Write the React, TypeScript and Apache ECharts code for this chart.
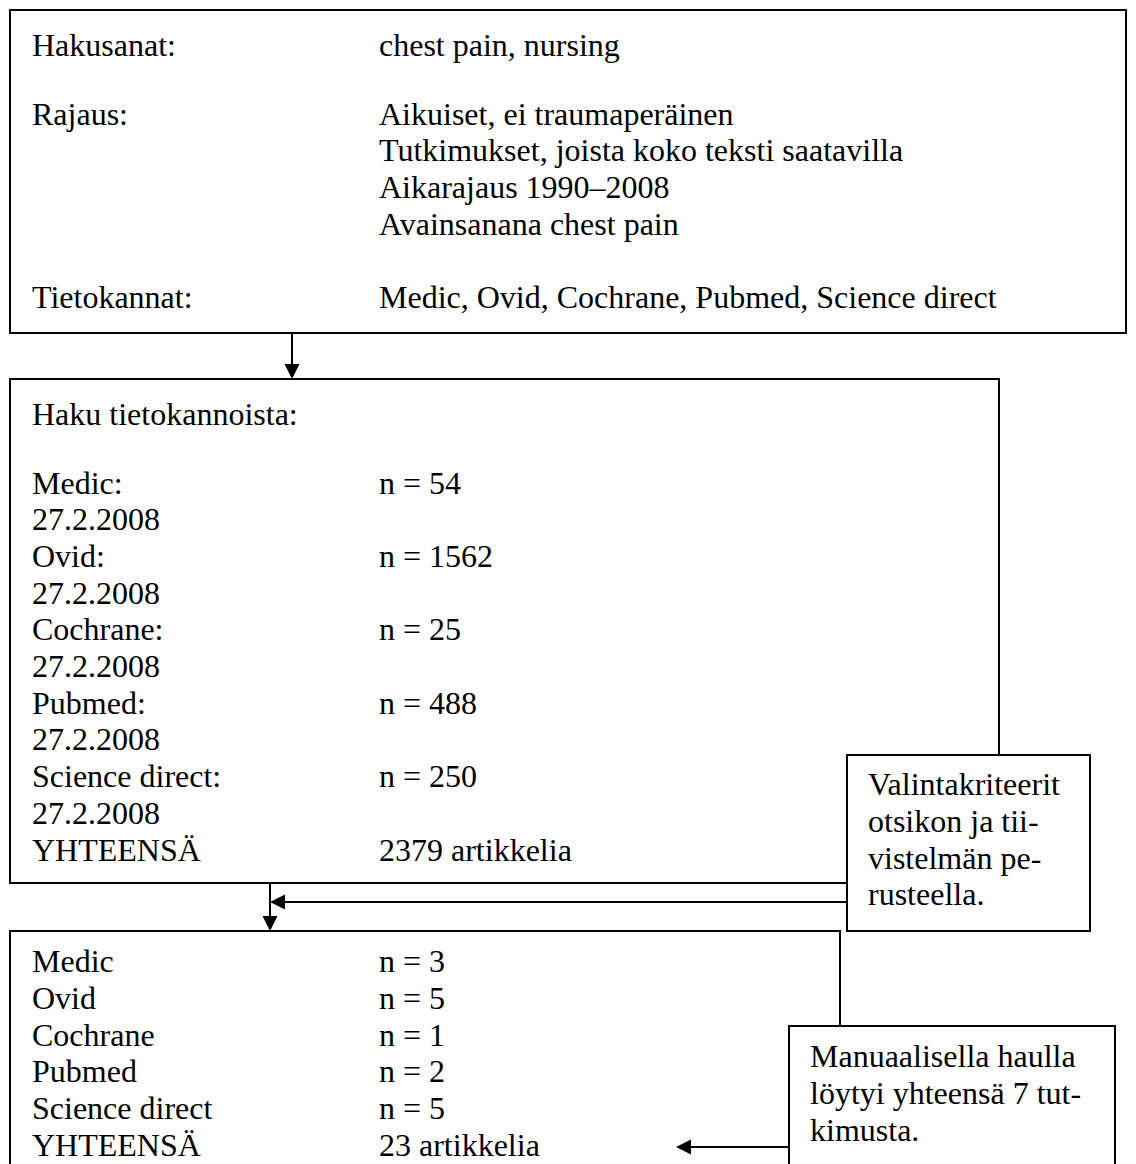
import React, { useEffect, useRef } from "react";
import * as echarts from "echarts";

const box1Labels = ["Hakusanat:", "", "Rajaus:", "", "", "", "", "Tietokannat:"];
const box1Values = [
  "chest pain, nursing",
  "",
  "Aikuiset, ei traumaperäinen",
  "Tutkimukset, joista koko teksti saatavilla",
  "Aikarajaus 1990–2008",
  "Avainsanana chest pain",
  "",
  "Medic, Ovid, Cochrane, Pubmed, Science direct",
];

const box2Labels = [
  "Haku tietokannoista:",
  "",
  "Medic:",
  "27.2.2008",
  "Ovid:",
  "27.2.2008",
  "Cochrane:",
  "27.2.2008",
  "Pubmed:",
  "27.2.2008",
  "Science direct:",
  "27.2.2008",
  "YHTEENSÄ",
];
const box2Values = ["", "", "n = 54", "", "n = 1562", "", "n = 25", "", "n = 488", "", "n = 250", "", "2379 artikkelia"];

const box3Labels = ["Medic", "Ovid", "Cochrane", "Pubmed", "Science direct", "YHTEENSÄ"];
const box3Values = ["n = 3", "n = 5", "n = 1", "n = 2", "n = 5", "23 artikkelia"];

const sideBox1Lines = ["Valintakriteerit", "otsikon ja tii-", "vistelmän pe-", "rusteella."];
const sideBox2Lines = ["Manuaalisella haulla", "löytyi yhteensä 7 tut-", "kimusta."];

const FONT = "'Liberation Serif', 'Times New Roman', serif";
const FS = 32;
const LH = 36.7;

// baseline -> middle-aligned y
function textEl(x: number, baseline: number, t: string) {
  return {
    type: "text",
    x,
    y: baseline - 0.34 * FS,
    z: 10,
    silent: true,
    style: {
      text: t,
      font: `${FS}px ${FONT}`,
      fill: "#000",
      align: "left",
      verticalAlign: "middle",
    },
  } as any;
}

function rectEl(x1: number, y1: number, x2: number, y2: number, z = 1) {
  return {
    type: "rect",
    z,
    shape: { x: x1, y: y1, width: x2 - x1, height: y2 - y1 },
    style: { fill: "#fff", stroke: "#000", lineWidth: 2 },
  } as any;
}

function lineEl(x1: number, y1: number, x2: number, y2: number) {
  return {
    type: "line",
    z: 5,
    shape: { x1, y1, x2, y2 },
    style: { stroke: "#000", lineWidth: 2 },
  } as any;
}

function arrowHead(tx: number, ty: number, dir: "down" | "left") {
  const L = 15;
  const W = 7.5;
  const pts =
    dir === "down"
      ? [
          [tx, ty],
          [tx - W, ty - L],
          [tx + W, ty - L],
        ]
      : [
          [tx, ty],
          [tx + L, ty - W],
          [tx + L, ty + W],
        ];
  return { type: "polygon", z: 6, shape: { points: pts }, style: { fill: "#000" } } as any;
}

function lineBaseline(first: number, i: number) {
  // the first line sits a bit lower; the rest follow a fixed line height
  return i === 0 ? first + 5 : first + i * LH;
}

export default function App() {
  const ref = useRef<HTMLDivElement>(null);
  useEffect(() => {
    if (!ref.current) return;
    const chart = echarts.init(ref.current, undefined, { renderer: "svg" });
    const els: any[] = [];

    // Box 1
    els.push(rectEl(10, 10, 1126, 333));
    box1Labels.forEach((t, i) => t && els.push(textEl(32, lineBaseline(51, i), t)));
    box1Values.forEach((t, i) => t && els.push(textEl(379, lineBaseline(51, i), t)));

    // Box 2
    els.push(rectEl(10, 379, 999, 883));
    box2Labels.forEach((t, i) => t && els.push(textEl(32, lineBaseline(420, i), t)));
    box2Values.forEach((t, i) => t && els.push(textEl(379, lineBaseline(420, i), t)));

    // Box 3
    els.push(rectEl(10, 931, 840, 1250));
    box3Labels.forEach((t, i) => els.push(textEl(32, 972 + i * LH, t)));
    box3Values.forEach((t, i) => els.push(textEl(379, 972 + i * LH, t)));

    // Side box 1
    els.push(rectEl(847, 755, 1090, 931, 3));
    sideBox1Lines.forEach((t, i) => els.push({ ...textEl(868, 795 + i * LH, t), z: 12 }));

    // Side box 2
    els.push(rectEl(789, 1026, 1115, 1250, 3));
    sideBox2Lines.forEach((t, i) => els.push({ ...textEl(810, 1067 + i * LH, t), z: 12 }));

    // Arrows
    els.push(lineEl(292, 333, 292, 366));
    els.push(arrowHead(292, 379, "down"));
    els.push(lineEl(270, 883, 270, 918));
    els.push(arrowHead(270, 931, "down"));
    els.push(lineEl(847, 902, 283, 902));
    els.push(arrowHead(270, 902, "left"));
    els.push(lineEl(789, 1147, 689, 1147));
    els.push(arrowHead(676, 1147, "left"));

    chart.setOption({
      animation: false,
      backgroundColor: "#fff",
      graphic: { elements: els },
    });
    return () => chart.dispose();
  }, []);
  return (
    <div
      ref={ref}
      style={{ position: "fixed", left: 0, top: 0, width: 1136, height: 1164, background: "#fff" }}
    />
  );
}
